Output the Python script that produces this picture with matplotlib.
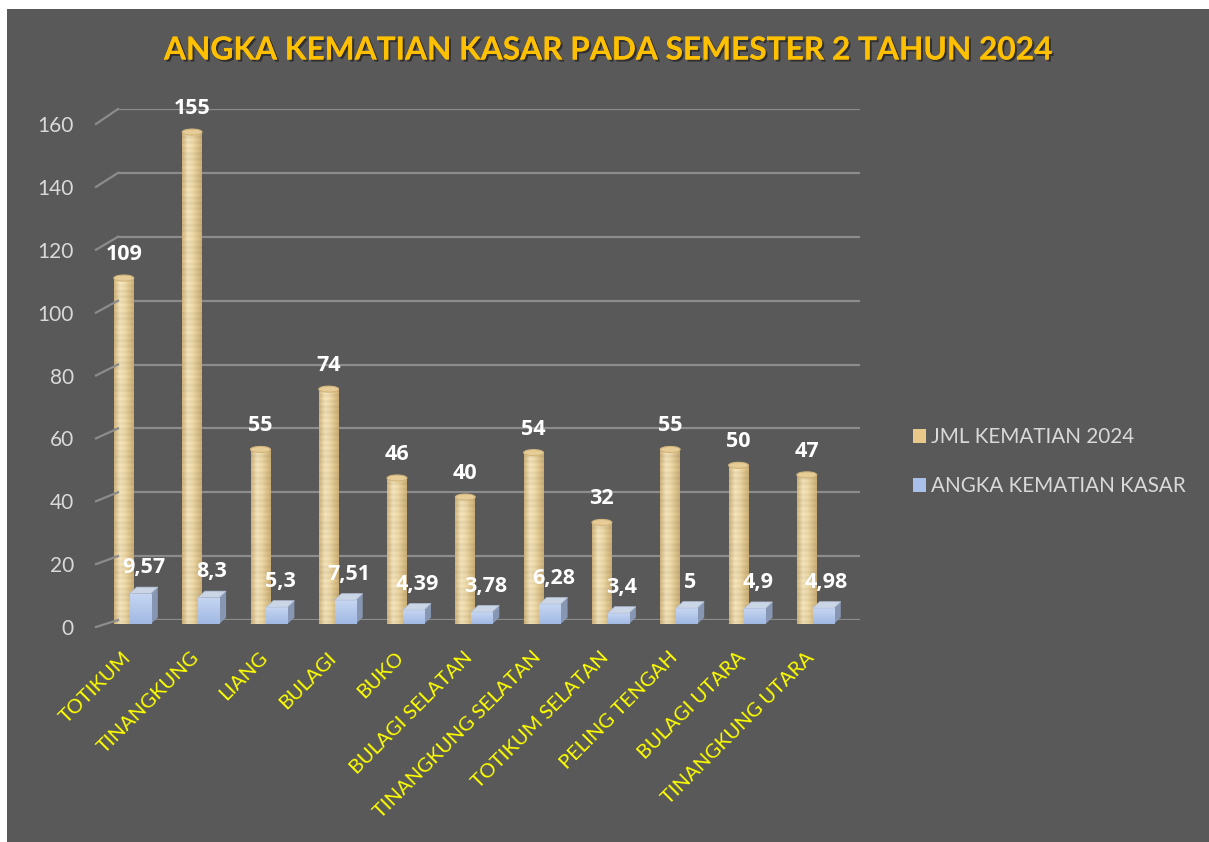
import numpy as np
import matplotlib
matplotlib.use("Agg")
import matplotlib.pyplot as plt
from matplotlib.patches import Rectangle, Ellipse, Polygon, Patch
from matplotlib.lines import Line2D
import matplotlib.transforms as mtransforms
import matplotlib.patheffects as pe
from matplotlib.colors import to_rgb

# ---------------- data ----------------
categories = ["TOTIKUM", "TINANGKUNG", "LIANG", "BULAGI", "BUKO", "BULAGI SELATAN",
              "TINANGKUNG SELATAN", "TOTIKUM SELATAN", "PELING TENGAH",
              "BULAGI UTARA", "TINANGKUNG UTARA"]
jml_kematian = [109, 155, 55, 74, 46, 40, 54, 32, 55, 50, 47]
angka_kasar = [9.57, 8.3, 5.3, 7.51, 4.39, 3.78, 6.28, 3.4, 5, 4.9, 4.98]
series_names = ["JML KEMATIAN 2024", "ANGKA KEMATIAN KASAR"]
y_ticks = [0, 20, 40, 60, 80, 100, 120, 140, 160]
title = "ANGKA KEMATIAN KASAR PADA SEMESTER 2 TAHUN 2024"

# ---------------- styling ----------------
W, H = 1209, 842
BG = "#595959"
GRID = "#8C8C8C"
TICKC = "#D9D9D9"
FONT = "Lato"
LABEL_FONT = ["Open Sans", "DejaVu Sans"]

plt.rcParams["font.family"] = [FONT, "DejaVu Sans"]

fig = plt.figure(figsize=(W / 100, H / 100), dpi=100, facecolor="white")
fig.patches.append(Rectangle((7 / W, 0), 1 - 7 / W, (H - 9) / H,
                             transform=fig.transFigure, facecolor=BG,
                             edgecolor="none", zorder=-10))


def rect_px(left, bottom, right, top):
    """pixel coords measured from the top-left of the image"""
    return [left / W, 1 - bottom / H, (right - left) / W, (bottom - top) / H]


# back wall with gridlines
wall = fig.add_axes(rect_px(118, 620, 860, 109))
wall.set_xlim(0, 1)
wall.set_ylim(0, 160)
wall.axis("off")
wall.hlines(y_ticks, 0, 1, color=GRID, lw=1.6, zorder=1)

# front value axis (labels)
front = fig.add_axes(rect_px(96, 627, 97, 124))
front.set_xlim(0, 1)
front.set_ylim(0, 160)
front.patch.set_alpha(0)
for s in front.spines.values():
    s.set_visible(False)
front.set_xticks([])
front.set_yticks(y_ticks)
front.set_yticklabels([str(v) for v in y_ticks], color=TICKC, fontsize=15)
front.tick_params(axis="y", length=0, pad=16)

# diagonal connectors between front axis and back wall
fig.canvas.draw()
inv = fig.transFigure.inverted()
for v in y_ticks:
    p_front = inv.transform(front.transData.transform((0, v)))
    p_back = inv.transform(wall.transData.transform((0, v)))
    fig.add_artist(Line2D([p_front[0], p_back[0]], [p_front[1], p_back[1]],
                          transform=fig.transFigure, color=GRID, lw=1.6))

# bar axes
ax = fig.add_axes(rect_px(97.85, 624, 849.15, 116.2))
ax.patch.set_alpha(0)
x = np.arange(len(categories))
ax.set_xlim(-0.5, len(categories) - 0.5)
ax.set_ylim(0, 160)
for s in ax.spines.values():
    s.set_visible(False)
ax.set_yticks([])

px_per_unit_y = (624 - 116.2) / 160.0
px_per_unit_x = (849.15 - 97.85) / len(categories)

cyl_w = 0.29
cube_w = 0.31
cyl_off = -0.12
cube_off = 0.12
cube_dx = 7 / px_per_unit_x
cube_dy = 6.5 / px_per_unit_y
ell_h = 6 / px_per_unit_y


def cyl_image(height_units):
    rows = max(int(height_units * px_per_unit_y), 2)
    cols = 40
    stops = [0.0, 0.3, 0.55, 1.0]
    cols_c = [to_rgb("#D5B87E"), to_rgb("#F8E8C0"), to_rgb("#F2DDAA"), to_rgb("#D0B277")]
    t = np.linspace(0, 1, cols)
    prof = np.zeros((cols, 3))
    for k in range(3):
        prof[:, k] = np.interp(t, stops, [c[k] for c in cols_c])
    yy = np.arange(rows)
    stripe = 1 - 0.05 * (0.5 + 0.5 * np.sin(2 * np.pi * yy / 5.5)) \
        - 0.03 * (0.5 + 0.5 * np.sin(2 * np.pi * yy / 23.0))
    img = prof[None, :, :] * stripe[:, None, None]
    return np.clip(img, 0, 1)


def cube_image():
    rows = 30
    top = np.array(to_rgb("#C6D6F2"))
    bot = np.array(to_rgb("#A1B9E3"))
    t = np.linspace(0, 1, rows)[:, None]
    col = top * (1 - t) + bot * t
    return np.repeat(col[:, None, :], 4, axis=1)


# cylinders
cyl_bars = ax.bar(x + cyl_off, jml_kematian, width=cyl_w, color="none",
                  edgecolor="none", zorder=3)
for b, v in zip(cyl_bars, jml_kematian):
    x0, w = b.get_x(), b.get_width()
    xc = x0 + w / 2
    ax.add_patch(Ellipse((xc, 0), w, ell_h, facecolor="#D6B97F", edgecolor="none", zorder=2.9))
    im = ax.imshow(cyl_image(v), extent=(x0, x0 + w, 0, v), origin="lower",
                   aspect="auto", zorder=3, interpolation="bilinear")
    im.set_clip_path(b)
    ax.add_patch(Ellipse((xc, v), w, ell_h, facecolor="#E6CC96",
                         edgecolor="#D2B57C", lw=0.8, zorder=3.2))
    ax.annotate(str(v), (xc, v), xytext=(0, 17), textcoords="offset points",
                ha="center", va="center", color="white", fontsize=15.5,
                fontweight="bold", family=LABEL_FONT, zorder=10)

# cubes
cube_bars = ax.bar(x + cube_off, angka_kasar, width=cube_w, color="#A9C1EA",
                   edgecolor="none", zorder=5)
for b, v in zip(cube_bars, angka_kasar):
    x0, w = b.get_x(), b.get_width()
    x1 = x0 + w
    im = ax.imshow(cube_image(), extent=(x0, x1, 0, v), origin="upper",
                   aspect="auto", zorder=5.1, interpolation="bilinear")
    im.set_clip_path(b)
    ax.add_patch(Polygon([(x1, 0), (x1 + cube_dx, cube_dy), (x1 + cube_dx, v + cube_dy), (x1, v)],
                         closed=True, facecolor="#8797B3", edgecolor="none", zorder=5))
    ax.add_patch(Polygon([(x0, v), (x1, v), (x1 + cube_dx, v + cube_dy), (x0 + cube_dx, v + cube_dy)],
                         closed=True, facecolor="#CAD5E6", edgecolor="#B3C1D8", lw=0.5, zorder=5.2))
    lab = f"{v:g}".replace(".", ",")
    ax.annotate(lab, (x0 + w / 2 + cube_dx / 2, v), xytext=(0, 18.5), textcoords="offset points",
                ha="center", va="center", color="white", fontsize=15.5,
                fontweight="bold", family=LABEL_FONT, zorder=10)

ax.set_xlim(-0.5, len(categories) - 0.5)
ax.set_ylim(0, 160)

# category labels
ax.set_xticks(x)
ax.set_xticklabels(categories, rotation=45, ha="right", va="center",
                   rotation_mode="anchor", color="#FFFF00", fontsize=14.5)
ax.tick_params(axis="x", length=0, pad=22)
offset = mtransforms.ScaledTranslation(-4 / 100, 0, fig.dpi_scale_trans)
for lbl in ax.get_xticklabels():
    lbl.set_transform(lbl.get_transform() + offset)

# title
fig.text(607 / W, 1 - 50 / H, title, ha="center", va="center", color="#FFC000",
         fontsize=22.8, fontweight="bold",
         path_effects=[pe.withSimplePatchShadow(offset=(1.5, -1.5), shadow_rgbFace="black", alpha=0.45),
                       pe.Normal()])

# legend
handles = [Patch(facecolor="#E8C98A", edgecolor="none"),
           Patch(facecolor="#A9C1EA", edgecolor="none")]
fig.legend(handles, series_names, loc="upper left", bbox_to_anchor=(913 / W, 1 - 427 / H),
           frameon=False, fontsize=14.9, labelcolor=TICKC, handlelength=0.65,
           handleheight=0.65, handletextpad=0.2, labelspacing=1.4,
           borderpad=0, borderaxespad=0)

fig.savefig("out.png", dpi=100, facecolor="white")
